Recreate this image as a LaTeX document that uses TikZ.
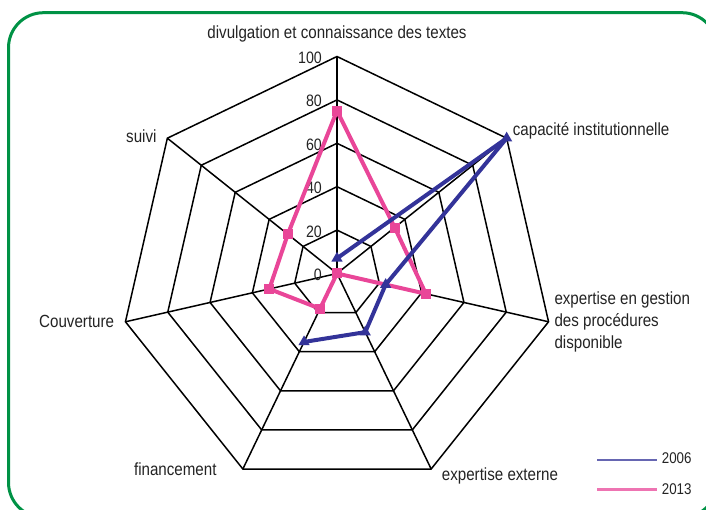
\documentclass[tikz,border=0pt]{standalone}
\usepackage{fontspec}
\setmainfont{Liberation Sans}[FakeStretch=0.86]
\usetikzlibrary{shapes.geometric}
\definecolor{frameg}{RGB}{0,146,69}
\definecolor{serA}{RGB}{51,51,153}
\definecolor{serB}{RGB}{233,70,152}
\definecolor{txt}{RGB}{35,35,35}
\begin{document}
\begin{tikzpicture}[x=1pt,y=-1pt,
 lbl/.style={font=\fontsize{17.6}{21.7}\selectfont, text=txt, inner sep=0pt},
 tick/.style={font=\fontsize{16.5}{18}\selectfont, text=txt, inner sep=0pt, anchor=base east},
 leg/.style={font=\fontsize{15.5}{18}\selectfont, text=txt, inner sep=0pt, anchor=base west},
 gridline/.style={black, line width=1.5pt, line join=miter},
 serieA/.style={serA, line width=4pt, line join=round},
 serieB/.style={serB, line width=4pt, line join=round},
 tri/.style={regular polygon, regular polygon sides=3, fill=serA, inner sep=0pt, minimum size=13pt},
 sq/.style={rectangle, fill=serB, inner sep=0pt, minimum size=10pt}]
\useasboundingbox (0,0) rectangle (706,510);
\begin{scope}
\clip (0,0) rectangle (706,510);
\draw[frameg, line width=3pt, rounded corners=35pt] (8.5,12.7) rectangle (717,517.5);
\end{scope}
% grid
\coordinate (O) at (337,273.5);
\foreach \k in {0,...,6}{
  \foreach \r in {20,40,60,80,100}{
    \coordinate (g\k-\r) at ({337+2.17*\r*cos(90-\k*360/7)},{273.5-2.17*\r*sin(90-\k*360/7)});
  }
}
\foreach \r in {20,40,60,80,100}{
  \draw[gridline] (g0-\r) -- (g1-\r) -- (g2-\r) -- (g3-\r) -- (g4-\r) -- (g5-\r) -- (g6-\r) -- cycle;
}
\foreach \k in {0,...,6}{ \draw[gridline] (O) -- (g\k-100); }
% ticks
\foreach \r in {0,20,40,60,80,100}{
  \node[tick] (tk\r) at (322,{273.5-2.17*\r+7}) {\r};
}
% data 2013
\foreach \k/\v in {0/75,1/34,2/42,3/0,4/18,5/32,6/29}{
  \coordinate (p\k) at ({337+2.17*\v*cos(90-\k*360/7)},{273.5-2.17*\v*sin(90-\k*360/7)});
}
% data 2006
\foreach \k/\v in {0/7,1/100,2/23,3/30,4/35}{
  \coordinate (b\k) at ({337+2.17*\v*cos(90-\k*360/7)},{273.5-2.17*\v*sin(90-\k*360/7)});
}
\draw[serieB] (p0) -- (p1) -- (p2) -- (p3) -- (p4) -- (p5) -- (p6) -- cycle;
\draw[serieA] (b0) -- (b1) -- (b2) -- (b3) -- (b4);
\foreach \k in {0,...,6}{ \node[sq] (mp\k) at (p\k) {}; }
\foreach \k in {0,...,4}{ \node[tri] (mb\k) at (b\k) {}; }
% axis labels
\node[lbl, anchor=base] (t1) at (337,38.3) {divulgation et connaissance des textes};
\node[lbl, anchor=base west] (t2) at (512.7,136) {capacité institutionnelle};
\node[lbl, anchor=base west] (t3a) at (554.3,305) {expertise en gestion};
\node[lbl, anchor=base west] (t3b) at (554.3,326.7) {des procédures};
\node[lbl, anchor=base west] (t3c) at (554.3,348.3) {disponible};
\node[lbl, anchor=base west] (t4) at (441.7,480) {expertise externe};
\node[lbl, anchor=base east] (t5) at (216.7,475) {financement};
\node[lbl, anchor=base east] (t6) at (114.3,327.3) {Couverture};
\node[lbl, anchor=base east] (t7) at (156.7,142.3) {suivi};
% legend
\coordinate (l1a) at (597,460); \coordinate (l1b) at (657,460);
\coordinate (l2a) at (597,489.3); \coordinate (l2b) at (657,489.3);
\draw[serA!75!white, line width=2.6pt] (l1a) -- (l1b);
\draw[serB!75!white, line width=2.6pt] (l2a) -- (l2b);
\node[leg] (lg1) at (661.7,463.5) {2006};
\node[leg] (lg2) at (661.7,494) {2013};
\end{tikzpicture}
\end{document}
